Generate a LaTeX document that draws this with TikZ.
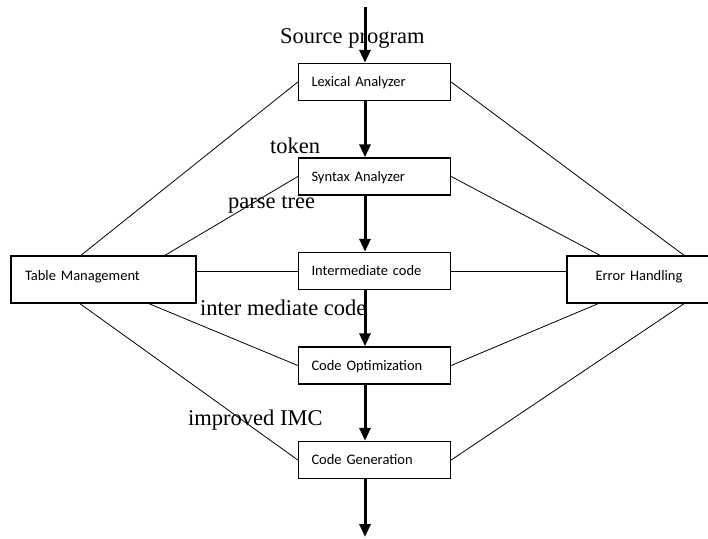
\documentclass[tikz,border=0pt]{standalone}
\usepackage{fontspec}
\setmainfont{Liberation Serif}
\newfontfamily\boxfont{Carlito}
\usepackage{tikz}
\usetikzlibrary{arrows.meta}
\usetikzlibrary{positioning}
\tikzstyle{every node}+=[inner sep=0pt]
\tikzstyle{block} = [rectangle, draw, line width=1.4pt, font=\boxfont\fontsize{14.5}{16}\selectfont, align=left, text width=126pt, inner xsep=13pt, minimum height=37pt, text height=12pt, text depth=3pt, node distance=94.5pt]
\tikzstyle{sidebox} = [block, minimum height=47pt, text height=10pt, text depth=9pt]
\tikzstyle{flow} = [draw, line width=3pt, -{Triangle[length=13pt, width=11pt]}]
\tikzstyle{link} = [draw, line width=0.8pt]
\tikzstyle{value} = [font=\fontsize{22.5}{27}\selectfont, anchor=base west]

\begin{document}
\begin{tikzpicture}[x=1pt, y=1pt, auto]
            \useasboundingbox (0,0) rectangle (708,-538);
            % Place nodes
            \node [block] (lex) at (374.5,-82) {Lexical Analyzer};
            \node [block, below of=lex] (syn) {Syntax Analyzer};
            \node [block, below of=syn] (ic) {Intermediate code};
            \node [block, below of=ic] (opt) {Code Optimization};
            \node [block, below of=opt] (gen) {Code Generation};
            \node [sidebox, left of=ic, node distance=271pt, yshift=-8.5pt, text width=157pt, inner xsep=14pt] (tm) {Table Management};
            \node [sidebox, right of=ic, node distance=267.5pt, yshift=-8.5pt, text width=122pt, inner xsep=14pt, align=center] (eh) {\hspace*{-6pt}Error Handling};
            \coordinate (in) at (365,-7);
            \coordinate (out) at (365,-537);
            % Labels
            \node [value] (src) at (280,-43) {Source program};
            \node [value] (tok) at (270,-153) {token};
            \node [value] (pt) at (228,-208) {parse tree};
            \node [value] (imc) at (200,-315) {inter mediate code};
            \node [value] (imp) at (188,-425) {improved IMC};
            % Draw edges
            \path [link] (lex.west) -- ([xshift=-22.5pt]tm.north);
            \path [link] (syn.west) -- ([xshift=61.5pt]tm.north);
            \path [link] (ic.west) -- (tm.east |- ic.west);
            \path [link] ([xshift=45.5pt]tm.south) -- (opt.west);
            \path [link] ([xshift=-23.5pt]tm.south) -- (gen.west);
            \path [link] (lex.east) -- ([xshift=42pt]eh.north);
            \path [link] (syn.east) -- ([xshift=-42pt]eh.north);
            \path [link] (ic.east) -- (eh.west |- ic.east);
            \path [link] ([xshift=-44pt]eh.south) -- (opt.east);
            \path [link] ([xshift=42pt]eh.south) -- (gen.east);
            \path [flow] (in) -- ([xshift=-9.5pt]lex.north);
            \path [flow] ([xshift=-9.5pt]lex.south) -- ([xshift=-9.5pt]syn.north);
            \path [flow] ([xshift=-9.5pt]syn.south) -- ([xshift=-9.5pt]ic.north);
            \path [flow] ([xshift=-9.5pt]ic.south) -- ([xshift=-9.5pt]opt.north);
            \path [flow] ([xshift=-9.5pt]opt.south) -- ([xshift=-9.5pt]gen.north);
            \path [flow] ([xshift=-9.5pt]gen.south) -- (out);
          \end{tikzpicture}
\end{document}
